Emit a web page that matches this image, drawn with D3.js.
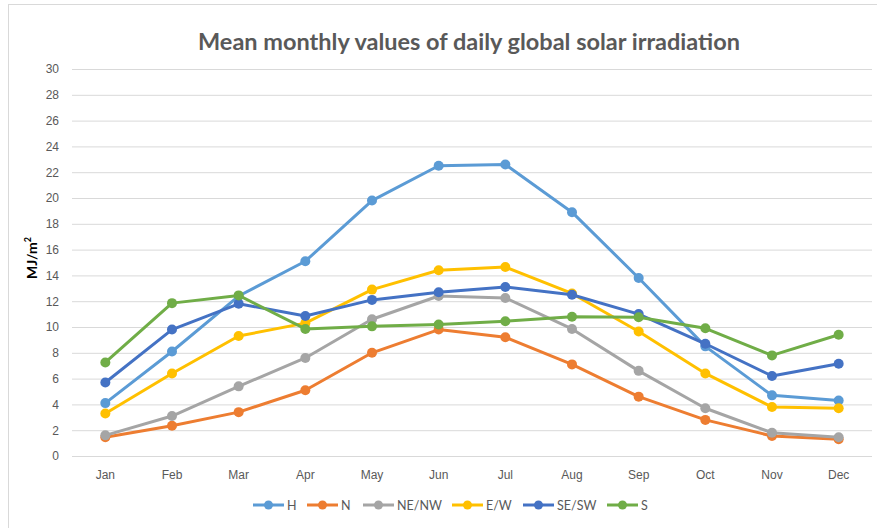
<!DOCTYPE html>
<html>
<head>
<meta charset="utf-8">
<script src="https://cdn.jsdelivr.net/npm/d3@7"></script>
<style>
  body { margin: 0; background: #fff; }
  svg { display: block; font-family: Lato, "Open Sans", sans-serif; }
</style>
</head>
<body>
<div id="chart"></div>
<script>
// data
var months = ["Jan", "Feb", "Mar", "Apr", "May", "Jun", "Jul", "Aug", "Sep", "Oct", "Nov", "Dec"];
var seriesNames = ["H", "N", "NE/NW", "E/W", "SE/SW", "S"];
var seriesColors = ["#5B9BD5", "#ED7D31", "#A5A5A5", "#FFC000", "#4472C4", "#70AD47"];
var valuesH    = [4.1, 8.1, 12.4, 15.1, 19.8, 22.5, 22.6, 18.9, 13.8, 8.5, 4.7, 4.3];
var valuesN    = [1.45, 2.35, 3.4, 5.1, 8.0, 9.8, 9.2, 7.1, 4.6, 2.8, 1.55, 1.3];
var valuesNENW = [1.6, 3.1, 5.4, 7.6, 10.6, 12.4, 12.25, 9.85, 6.6, 3.7, 1.8, 1.45];
var valuesEW   = [3.3, 6.4, 9.3, 10.3, 12.9, 14.4, 14.65, 12.6, 9.65, 6.4, 3.8, 3.7];
var valuesSESW = [5.7, 9.8, 11.8, 10.85, 12.1, 12.7, 13.1, 12.5, 11.0, 8.7, 6.2, 7.15];
var valuesS    = [7.25, 11.85, 12.45, 9.85, 10.05, 10.2, 10.45, 10.8, 10.75, 9.9, 7.8, 9.4];
var yTicks = [0, 2, 4, 6, 8, 10, 12, 14, 16, 18, 20, 22, 24, 26, 28, 30];

var allValues = [valuesH, valuesN, valuesNENW, valuesEW, valuesSESW, valuesS];

var W = 877, H = 528;
var margin = { top: 69, right: 5, bottom: 72, left: 72 };
var width = W - margin.left - margin.right,   // 800
    height = H - margin.top - margin.bottom;  // 387

var svg = d3.select("#chart").append("svg")
    .attr("width", W)
    .attr("height", H);

// chart frame
svg.append("rect")
    .attr("x", 8.5).attr("y", 4.5)
    .attr("width", 880).attr("height", 540)
    .attr("fill", "none")
    .attr("stroke", "#d9d9d9");

// title
svg.append("text")
    .attr("x", 469).attr("y", 50)
    .attr("text-anchor", "middle")
    .attr("fill", "#595959")
    .style("font-size", "23.5px")
    .style("font-weight", "bold")
    .text("Mean monthly values of daily global solar irradiation");

var g = svg.append("g")
    .attr("transform", "translate(" + margin.left + "," + margin.top + ")");

var xScale = d3.scaleBand()
    .domain(months)
    .range([0, width]);

var yScale = d3.scaleLinear()
    .domain([0, 30])
    .range([height, 0]);

// gridlines + y labels
var yAxis = d3.axisLeft(yScale)
    .tickValues(yTicks)
    .tickSize(-width)
    .tickPadding(13);

var yG = g.append("g").attr("class", "y axis").call(yAxis);
yG.select(".domain").remove();
yG.selectAll("line").attr("stroke", "#d9d9d9").attr("stroke-width", 1);
yG.selectAll("text")
    .attr("fill", "#595959")
    .style("font-size", "12px");

// x labels
var xAxis = d3.axisBottom(xScale).tickSize(0).tickPadding(14);
var xG = g.append("g")
    .attr("class", "x axis")
    .attr("transform", "translate(0," + height + ")")
    .call(xAxis);
xG.select(".domain").remove();
xG.selectAll("text")
    .attr("fill", "#595959")
    .style("font-size", "12px");

// y axis title
svg.append("text")
    .attr("transform", "translate(37,258) rotate(-90)")
    .attr("text-anchor", "middle")
    .attr("fill", "#000")
    .style("font-size", "14px")
    .style("font-weight", "bold")
    .html('MJ/m<tspan dy="-6" font-size="9">2</tspan>');

// lines
var line = d3.line()
    .x(function(d, i) { return xScale(months[i]) + xScale.bandwidth() / 2; })
    .y(function(d) { return yScale(d); });

allValues.forEach(function(vals, s) {
    var sg = g.append("g").attr("class", "series");
    sg.append("path")
        .datum(vals)
        .attr("fill", "none")
        .attr("stroke", seriesColors[s])
        .attr("stroke-width", 3)
        .attr("stroke-linejoin", "round")
        .attr("stroke-linecap", "round")
        .attr("d", line);
    sg.selectAll("circle")
        .data(vals)
        .enter()
        .append("circle")
        .attr("cx", function(d, i) { return xScale(months[i]) + xScale.bandwidth() / 2; })
        .attr("cy", function(d) { return yScale(d); })
        .attr("r", 5)
        .attr("fill", seriesColors[s]);
});

// legend
var legendX = [253, 307, 363, 452, 523, 607];
var legend = svg.append("g").attr("class", "legend")
    .attr("transform", "translate(0,505)");

seriesNames.forEach(function(name, s) {
    var lg = legend.append("g").attr("transform", "translate(" + legendX[s] + ",0)");
    lg.append("line")
        .attr("x1", 0).attr("x2", 31)
        .attr("y1", 0).attr("y2", 0)
        .attr("stroke", seriesColors[s])
        .attr("stroke-width", 3);
    lg.append("circle")
        .attr("cx", 15.5).attr("cy", 0).attr("r", 4.5)
        .attr("fill", seriesColors[s]);
    lg.append("text")
        .attr("x", 34).attr("y", 4.5)
        .attr("fill", "#595959")
        .style("font-size", "12.5px")
        .text(name);
});
</script>
</body>
</html>
